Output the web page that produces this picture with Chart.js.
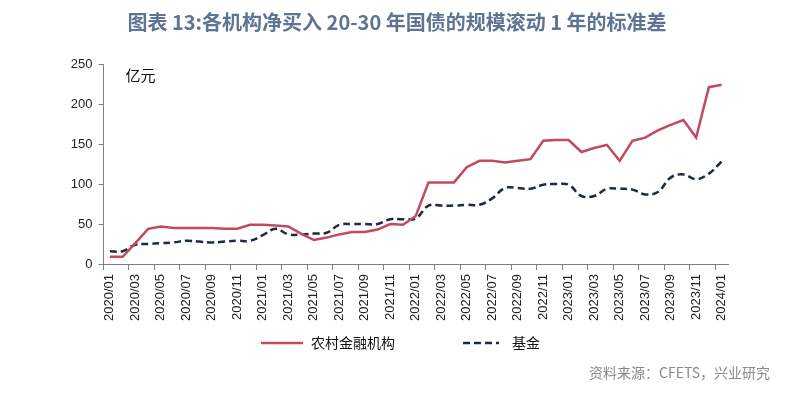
<!DOCTYPE html>
<html>
<head>
<meta charset="utf-8">
<script src="https://cdn.jsdelivr.net/npm/chart.js@4.4.1/dist/chart.umd.min.js"></script>
<style>
  html, body { margin: 0; padding: 0; background: #fff; }
  #wrap { width: 793px; height: 395px; }
</style>
</head>
<body>
<div id="wrap"><canvas id="chart" width="793" height="395"></canvas></div>
<script>
// months 2020/01 .. 2024/01
const months = [
  '2020/01','2020/02','2020/03','2020/04','2020/05','2020/06','2020/07','2020/08','2020/09','2020/10','2020/11','2020/12',
  '2021/01','2021/02','2021/03','2021/04','2021/05','2021/06','2021/07','2021/08','2021/09','2021/10','2021/11','2021/12',
  '2022/01','2022/02','2022/03','2022/04','2022/05','2022/06','2022/07','2022/08','2022/09','2022/10','2022/11','2022/12',
  '2023/01','2023/02','2023/03','2023/04','2023/05','2023/06','2023/07','2023/08','2023/09','2023/10','2023/11','2023/12',
  '2024/01'
];

// 农村金融机构 (亿元)
const ruralValues = [
  9, 9, 26, 44, 47, 45, 45, 45, 45, 44, 44, 49,
  49, 48, 47, 38, 30, 33, 37, 40, 40, 43, 50, 49,
  60, 102, 102, 102, 121, 129, 129, 127, 129, 131, 154, 155,
  155, 140, 145, 149, 129, 154, 158, 167, 174, 180, 158, 221,
  224
];

// 基金 (亿元)
const fundValues = [
  16, 16, 24, 25, 26, 27, 29, 28, 27, 28, 29, 29,
  36, 44, 37, 37, 38, 39, 49, 50, 50, 50, 56, 56,
  57, 73, 73, 73, 74, 74, 82, 95, 95, 94, 99, 100,
  99, 85, 85, 94, 94, 93, 87, 90, 108, 112, 106, 113,
  128
];

const yTicks = [0, 50, 100, 150, 200, 250];

const titleText = '图表 13:各机构净买入 20-30 年国债的规模滚动 1 年的标准差';
const unitText = '亿元';
const sourceText = '资料来源：CFETS，兴业研究';

const RED = '#c24a5c';
const NAVY = '#1c2b42';
const AXIS = '#808080';

const cjk = '"Noto Sans CJK SC", "Noto Sans", sans-serif';

// title, unit, legend and source text
const extras = {
  id: 'extras',
  afterDraw(chart) {
    const ctx = chart.ctx;
    ctx.save();
    ctx.textBaseline = 'middle';

    ctx.font = 'bold 20px ' + cjk;
    ctx.fillStyle = '#5f7393';
    ctx.textAlign = 'center';
    ctx.fillText(titleText, 397, 22);

    ctx.font = '15px ' + cjk;
    ctx.fillStyle = '#111';
    ctx.textAlign = 'left';
    ctx.fillText(unitText, chart.chartArea.left + 22, 75);

    // legend
    const items = [
      { x0: 261, x1: 303, tx: 311 },
      { x0: 463, x1: 499, tx: 512 }
    ];
    chart.data.datasets.forEach((ds, i) => {
      const it = items[i];
      ctx.beginPath();
      ctx.lineWidth = 2.5;
      ctx.strokeStyle = ds.borderColor;
      ctx.setLineDash(ds.borderDash || []);
      ctx.moveTo(it.x0, 343);
      ctx.lineTo(it.x1, 343);
      ctx.stroke();
      ctx.setLineDash([]);
      ctx.font = '14px ' + cjk;
      ctx.fillStyle = '#111';
      ctx.fillText(ds.label, it.tx, 343);
    });

    ctx.font = '14px ' + cjk;
    ctx.fillStyle = '#8a8a8a';
    ctx.textAlign = 'right';
    ctx.fillText(sourceText, 770, 373);
    ctx.restore();
  }
};

new Chart(document.getElementById('chart'), {
  type: 'line',
  data: {
    labels: months,
    datasets: [
      {
        label: '农村金融机构',
        data: ruralValues,
        borderColor: RED,
        backgroundColor: RED,
        borderWidth: 2.5,
        pointRadius: 0,
        tension: 0
      },
      {
        label: '基金',
        data: fundValues,
        borderColor: NAVY,
        backgroundColor: NAVY,
        borderWidth: 2.5,
        borderDash: [7, 4],
        pointRadius: 0,
        tension: 0.4
      }
    ]
  },
  options: {
    responsive: false,
    animation: false,
    layout: { padding: { top: 64, right: 65, bottom: 0, left: 0 } },
    plugins: {
      legend: { display: false },
      title: { display: false },
      tooltip: { enabled: false }
    },
    scales: {
      x: {
        type: 'category',
        offset: true,
        grid: {
          offset: true,
          drawOnChartArea: false,
          drawTicks: true,
          tickLength: 6,
          color: ctx => (ctx.index % 2 === 0 ? AXIS : 'rgba(0,0,0,0)')
        },
        border: { color: AXIS, width: 1 },
        ticks: {
          autoSkip: false,
          maxRotation: 90,
          minRotation: 90,
          padding: 4,
          color: '#222',
          font: { family: '"Liberation Sans", Arial, sans-serif', size: 13 },
          callback: (v, i) => (i % 2 === 0 ? months[i] : '')
        },
        afterFit: s => { s.height = 131; }
      },
      y: {
        min: 0,
        max: 250,
        afterBuildTicks: s => { s.ticks = yTicks.map(v => ({ value: v })); },
        grid: {
          drawOnChartArea: false,
          drawTicks: true,
          tickLength: 5,
          color: AXIS
        },
        border: { color: AXIS, width: 1 },
        ticks: {
          padding: 6,
          color: '#222',
          font: { family: '"Liberation Sans", Arial, sans-serif', size: 13 }
        },
        afterFit: s => { s.width = 103.5; }
      }
    }
  },
  plugins: [extras]
});
</script>
</body>
</html>
